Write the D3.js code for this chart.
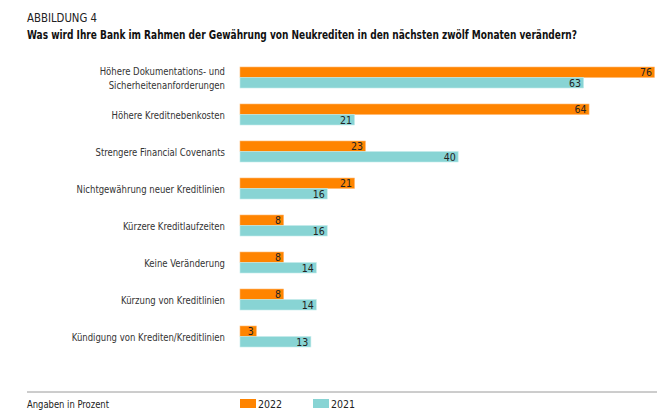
<!DOCTYPE html>
<html><head><meta charset="utf-8">
<script src="https://cdn.jsdelivr.net/npm/d3@7"></script>
<style>
body{margin:0;background:#fff;}
text{font-family:"DejaVu Sans Condensed","Roboto",sans-serif;}
</style></head>
<body><svg id="c" width="669" height="415"></svg>
<script>
const categories = [
  ["Höhere Dokumentations- und","Sicherheitenanforderungen"],
  ["Höhere Kreditnebenkosten"],
  ["Strengere Financial Covenants"],
  ["Nichtgewährung neuer Kreditlinien"],
  ["Kürzere Kreditlaufzeiten"],
  ["Keine Veränderung"],
  ["Kürzung von Kreditlinien"],
  ["Kündigung von Krediten/Kreditlinien"]
];
const values2022 = [76, 64, 23, 21, 8, 8, 8, 3];
const values2021 = [63, 21, 40, 16, 16, 14, 14, 13];
const seriesNames = ["2022", "2021"];
const colors = ["#ff8400", "#88d4d4"];

const svg = d3.select("#c");
const x = d3.scaleLinear().domain([0, 76]).range([240, 654.5]);
const y = d3.scaleBand().domain(d3.range(categories.length)).range([67, 67 + 37*8]).paddingInner(0).paddingOuter(0);
const bh = 10.5;

svg.append("text").attr("x", 27).attr("y", 22).attr("font-size", 11.5).attr("fill", "#222")
  .attr("textLength", 70).attr("lengthAdjust", "spacingAndGlyphs").text("ABBILDUNG 4");
svg.append("text").attr("x", 27).attr("y", 39).attr("font-size", 11.5).attr("font-weight", "bold").attr("fill", "#111")
  .attr("textLength", 550).attr("lengthAdjust", "spacingAndGlyphs")
  .text("Was wird Ihre Bank im Rahmen der Gewährung von Neukrediten in den nächsten zwölf Monaten verändern?");

const series = [values2022, values2021];
const g = svg.append("g");
categories.forEach((cat, i) => {
  const top = y(i);
  series.forEach((vals, s) => {
    const v = vals[i];
    const yy = top + s*bh;
    g.append("rect").attr("x", x(0)).attr("y", yy).attr("width", x(v) - x(0)).attr("height", bh)
      .attr("fill", colors[s]).attr("stroke", s===0 ? "#ffb870" : "#c4ecec").attr("stroke-width", 0.6);
    g.append("text").attr("x", x(v) - 2.5).attr("y", yy + bh/2 + 4).attr("text-anchor", "end")
      .attr("font-size", 10.5).attr("fill", "#222").text(v);
  });
  const cy = top + bh;
  const n = cat.length;
  cat.forEach((line, k) => {
    const t = g.append("text").attr("x", 225).attr("y", cy + 4 + (k - (n-1)/2)*14).attr("text-anchor", "end")
      .attr("font-size", 10.5).attr("fill", "#333").text(line);
    const w = t.node().getComputedTextLength();
    t.attr("textLength", w * 0.9).attr("lengthAdjust", "spacingAndGlyphs");
  });
});

svg.append("line").attr("x1", 27).attr("x2", 657).attr("y1", 392).attr("y2", 392).attr("stroke", "#9a9a9a").attr("stroke-width", 1);
svg.append("text").attr("x", 27).attr("y", 408).attr("font-size", 10.5).attr("fill", "#222")
  .attr("textLength", 82).attr("lengthAdjust", "spacingAndGlyphs").text("Angaben in Prozent");
const lx = [240, 313];
seriesNames.forEach((n, s) => {
  svg.append("rect").attr("x", lx[s]).attr("y", 399).attr("width", 16).attr("height", 9).attr("fill", colors[s]);
  svg.append("text").attr("x", lx[s] + 18).attr("y", 408).attr("font-size", 10.5).attr("fill", "#222").text(n);
});
</script></body></html>
